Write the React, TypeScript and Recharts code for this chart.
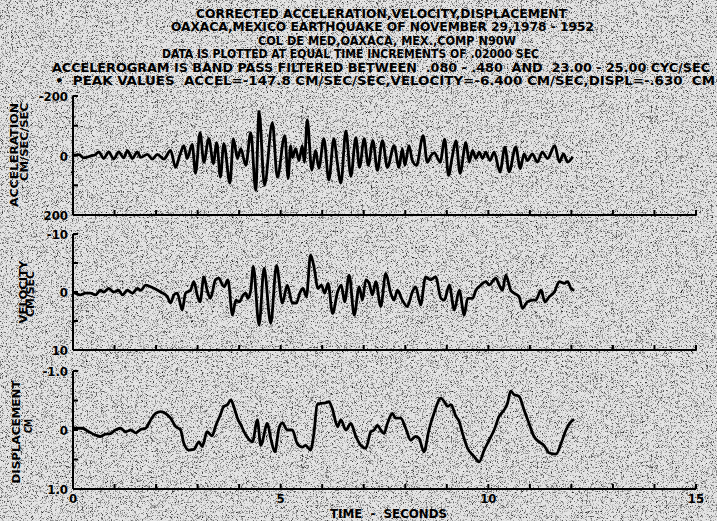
import { Line, LineChart, XAxis, YAxis } from "recharts"

const W = 717
const H = 521
const PLOT_LEFT = 73
const PLOT_RIGHT = 696
const FONT = "'DejaVu Sans Condensed', 'DejaVu Sans', sans-serif"

// time axis (seconds)
const timeTicks = [0, 1, 2, 3, 4, 5, 6, 7, 8, 9, 10, 11, 12, 13, 14, 15]
const timeLabels = ["0", "", "", "", "", "5", "", "", "", "", "10", "", "", "", "", "15"]

// acceleration, cm/sec/sec
const accTime = [
  0, 0.14, 0.26, 0.42, 0.54, 0.62, 0.74, 0.86, 0.98, 1.1, 1.22, 1.31, 1.43, 1.55, 1.63, 1.79, 1.91, 2.03, 2.19,
  2.35, 2.47, 2.57, 2.67, 2.75, 2.87, 2.95, 3.06, 3.15, 3.27, 3.38, 3.46, 3.55, 3.63, 3.78, 3.86, 3.96, 4.04,
  4.16, 4.28, 4.4, 4.48, 4.61, 4.8, 4.92, 5.1, 5.18, 5.24, 5.28, 5.36, 5.44, 5.52, 5.57, 5.64, 5.75, 5.84, 5.92,
  6.04, 6.16, 6.28, 6.36, 6.45, 6.57, 6.69, 6.81, 6.9, 7.01, 7.11, 7.22, 7.33, 7.45, 7.57, 7.73, 7.85, 7.93,
  7.99, 8.09, 8.17, 8.27, 8.43, 8.53, 8.62, 8.7, 8.84, 8.95, 9.04, 9.13, 9.22, 9.32, 9.46, 9.54, 9.62, 9.7,
  9.78, 9.86, 9.94, 10.04, 10.14, 10.28, 10.4, 10.5, 10.66, 10.77, 10.86, 10.94, 11.06, 11.18, 11.3, 11.43,
  11.6, 11.71, 11.81, 11.91, 12.03,
]
const accValue = [
  0, -3, 8, 2, -3, -12, 10, -12, 12, -12, 8, -16, 10, -12, 6, -4, 12, -4, 12,
  -17, 40, 0, -33, 10, -37, 60, -77, 23, -57, 27, -43, 73, -40, 93, -57, 10, -23,
  33, -77, 117, -148, 100, -110, 73, -67, 77, -33, 7, -23, 17, -33, 23, -120, 50, -17, 43,
  -57, 83, -57, 20, 93, -83, 70, -60, 40, -57, 33, -50, 50, -50, 40, -33, 40, -23,
  33, -33, 17, 33, -67, 23, 0, -9, 22, -55, 67, 5, -50, 60, -44, 22, -17, 10,
  -11, 10, -11, 17, -11, 55, -28, 55, -28, 44, -5, 17, -5, 22, -11, 10,
  -33, 22, -5, 22, 5,
]
const accTicks = [-200, -100, 0, 100, 200]
const accLabels = ["-200", "", "0", "", "200"]

// velocity, cm/sec
const velTime = [
  0, 0.18, 0.3, 0.42, 0.54, 0.66, 0.74, 0.86, 0.98, 1.1, 1.19, 1.31, 1.43, 1.55, 1.63, 1.75, 1.87, 2.11, 2.27,
  2.35, 2.43, 2.51, 2.63, 2.71, 2.83, 2.91, 2.99, 3.06, 3.15, 3.23, 3.31, 3.43, 3.51, 3.6, 3.64, 3.73, 3.84,
  3.92, 4.0, 4.1, 4.16, 4.21, 4.28, 4.34, 4.48, 4.6, 4.76, 4.9, 5.04, 5.16, 5.28, 5.38, 5.46, 5.54, 5.62, 5.72,
  5.8, 5.9, 5.98, 6.06, 6.14, 6.25, 6.37, 6.46, 6.54, 6.65, 6.77, 6.89, 6.97, 7.05, 7.13, 7.21, 7.29, 7.41,
  7.53, 7.65, 7.73, 7.81, 7.93, 8.05, 8.17, 8.25, 8.37, 8.49, 8.61, 8.73, 8.86, 8.94, 9.06, 9.18, 9.3, 9.42,
  9.5, 9.62, 9.7, 9.82, 9.94, 10.02, 10.18, 10.26, 10.34, 10.42, 10.54, 10.62, 10.74, 10.82, 10.94, 11.07,
  11.14, 11.27, 11.36, 11.47, 11.59, 11.71, 11.83, 11.91, 11.99, 12.07,
]
const velValue = [
  0, 0.5, 0.2, 0.2, 0.5, -0.3, 0, -0.6, 0, -0.3, 0.5, -0.3, 0.2, -0.6, -0.3, -1.2, -0.9, 0, 0.8,
  1.9, 0.5, 0.2, 3.1, 0.2, -0.3, -1.8, 0.5, 1.7, -2.6, -0.3, 1.1, -2.1, -2.4, -1.2, -0.9, -2.1, 4.0,
  1.4, 1.7, 0.5, 0.2, 1.1, -0.3, -4.4, 5.7, -4.1, 5.4, -4.6, 1.9, -1.2, 1.9, 1.9, 0.2, -0.6, 0.8, -6.4,
  -4.4, -0.6, -1.2, 0.2, -1.5, 3.7, 0, -1.2, 1.7, -2.9, 4.0, -0.9, 1.4, -2.1, -1.5, 0.5, -1.8, 2.5,
  -3.2, 0.2, 1.4, -0.3, 1.4, 2.5, 0, -0.9, 2.2, -2.6, -2.1, -2.6, 1.1, 1.4, -1.2, 3.1, -0.3, 4.0,
  1.1, 1.1, -0.3, -1.2, -1.8, -1.2, -2.4, -1.2, -0.3, -2.9, -0.3, 0.2, 0.8, 2.8, 1.7, 1.4,
  1.4, -0.3, 1.7, 0.8, 0, -1.8, -1.5, -1.8, -0.6, -0.3,
]
const velTicks = [-10, -5, 0, 5, 10]
const velLabels = ["-10", "", "0", "", "10"]

// displacement, cm
const dispTime = [
  0, 0.22, 0.38, 0.54, 0.66, 0.78, 0.9, 1.02, 1.14, 1.27, 1.39, 1.51, 1.63, 1.75, 1.87, 1.99, 2.11, 2.23, 2.35,
  2.47, 2.59, 2.67, 2.79, 2.91, 3.03, 3.11, 3.23, 3.35, 3.43, 3.55, 3.63, 3.72, 3.8, 3.87, 3.96, 4.04, 4.16,
  4.32, 4.44, 4.52, 4.68, 4.76, 4.86, 4.96, 5.04, 5.16, 5.28, 5.4, 5.52, 5.6, 5.72, 5.8, 5.88, 5.96, 6.08,
  6.16, 6.24, 6.37, 6.45, 6.57, 6.69, 6.81, 6.93, 7.05, 7.17, 7.25, 7.33, 7.41, 7.49, 7.57, 7.69, 7.77, 7.89,
  8.01, 8.13, 8.25, 8.33, 8.45, 8.57, 8.69, 8.86, 8.94, 9.02, 9.1, 9.22, 9.3, 9.38, 9.5, 9.66, 9.78, 9.9,
  10.02, 10.14, 10.26, 10.38, 10.46, 10.54, 10.62, 10.74, 10.86, 10.98, 11.1, 11.22, 11.34, 11.47, 11.63,
  11.75, 11.87, 11.99, 12.07,
]
const dispValue = [
  -0.03, -0.03, 0.03, 0.085, 0.11, 0.07, 0.06, 0, -0.03, 0.03, 0, 0.05, -0.01, -0.03, -0.17, -0.28, -0.31, -0.28, -0.2,
  -0.06, 0, 0.23, 0.34, 0.33, 0.2, 0.28, 0.03, 0.1, -0.06, -0.26, -0.4, -0.43, -0.51, -0.4, -0.2, -0.09, 0.085,
  0.2, -0.17, 0.26, -0.11, 0.14, 0.37, -0.03, -0.12, 0, 0, 0.23, 0.29, 0.26, 0.34, 0.06, -0.43, -0.45, -0.46,
  -0.48, -0.37, -0.06, -0.17, 0, -0.11, 0.11, 0.26, 0.31, 0.03, 0, -0.08, 0, 0.06, -0.11, -0.28, -0.2, -0.2,
  -0.03, 0.17, 0.11, 0.14, 0.37, 0, -0.28, -0.54, -0.48, -0.4, -0.43, -0.23, -0.14, 0.06, 0.31, 0.45, 0.54, 0.34,
  0.17, 0, -0.23, -0.34, -0.45, -0.66, -0.6, -0.57, -0.34, -0.11, 0.11, 0.2, 0.26, 0.39, 0.41,
  0.23, 0, -0.14, -0.18,
]
const dispTicks = [-1, -0.5, 0, 0.5, 1]
const dispLabels = ["-1.0", "", "0", "", "1.0"]

const titleLines = [
  "CORRECTED ACCELERATION,VELOCITY,DISPLACEMENT",
  "OAXACA,MEXICO EARTHQUAKE OF NOVEMBER 29,1978 - 1952",
  "COL DE MED,OAXACA, MEX.,COMP N90W",
  "DATA IS PLOTTED AT EQUAL TIME INCREMENTS OF .02000 SEC",
  "ACCELEROGRAM IS BAND PASS FILTERED BETWEEN  .080 - .480  AND  23.00 - 25.00 CYC/SEC",
  "\u2022  PEAK VALUES  ACCEL=-147.8 CM/SEC/SEC,VELOCITY=-6.400 CM/SEC,DISPL=-.630  CM",
]
// [x start, width, baseline]
const titleBoxes = [
  [196, 371, 18],
  [171, 423, 31],
  [258, 258, 45],
  [162, 377, 58],
  [52, 658, 72],
  [55, 660, 85],
]

const toRows = (ts: number[], vs: number[]) => ts.map((t, i) => ({ t, v: vs[i] }))

type PanelProps = {
  rows: { t: number; v: number }[]
  top: number
  bottom: number
  ticks: number[]
  labels: string[]
  timeText: boolean
}

function Panel({ rows, top, bottom, ticks, labels, timeText }: PanelProps) {
  const xTick = (p: any) => (
    <g>
      <line x1={p.x} x2={p.x} y1={bottom} y2={bottom - 5} stroke="#000" strokeWidth={2} />
      {timeText && timeLabels[p.index] ? (
        <text x={p.x} y={bottom + 14} textAnchor="middle" fontSize={13} fontWeight="bold" fontFamily={FONT} fill="#000">
          {timeLabels[p.index]}
        </text>
      ) : null}
    </g>
  )
  const yTick = (p: any) => (
    <g>
      <line x1={PLOT_LEFT} x2={PLOT_LEFT + 5} y1={p.y} y2={p.y} stroke="#000" strokeWidth={2} />
      {labels[p.index] ? (
        <text x={PLOT_LEFT - 5} y={p.y + 5} textAnchor="end" fontSize={13} fontWeight="bold" fontFamily={FONT} fill="#000">
          {labels[p.index]}
        </text>
      ) : null}
    </g>
  )
  return (
    <div style={{ position: "absolute", left: 0, top: 0 }}>
      <LineChart
        width={W}
        height={H}
        data={rows}
        margin={{ top, right: W - PLOT_RIGHT, bottom: H - bottom - 20, left: PLOT_LEFT - 60 }}
      >
        <XAxis
          dataKey="t"
          type="number"
          domain={[0, 15]}
          ticks={timeTicks}
          interval={0}
          height={20}
          tickSize={0}
          tickMargin={0}
          tickLine={false}
          axisLine={{ stroke: "#000", strokeWidth: 2 }}
          tick={xTick}
        />
        <YAxis
          type="number"
          domain={[ticks[0], ticks[ticks.length - 1]]}
          ticks={ticks}
          interval={0}
          reversed
          width={60}
          tickSize={0}
          tickMargin={0}
          tickLine={false}
          axisLine={{ stroke: "#000", strokeWidth: 2 }}
          tick={yTick}
        />
        <Line
          type="monotone"
          dataKey="v"
          stroke="#000"
          strokeWidth={2.8}
          dot={false}
          isAnimationActive={false}
        />
      </LineChart>
    </div>
  )
}

function SideTitle({ x, y, len, children }: { x: number; y: number; len: number; children: string }) {
  return (
    <text
      x={x}
      y={y}
      transform={`rotate(-90 ${x} ${y})`}
      textAnchor="middle"
      fontSize={11}
      fontWeight="bold"
      fontFamily={FONT}
      textLength={len}
      lengthAdjust="spacingAndGlyphs"
      fill="#000"
    >
      {children}
    </text>
  )
}

export default function App() {
  return (
    <div style={{ position: "fixed", left: 0, top: 0, width: W, height: H, overflow: "hidden" }}>
      {/* scanned-paper grain */}
      <svg width={W} height={H} style={{ position: "absolute", left: 0, top: 0 }}>
        <filter id="grain" x="0" y="0" width="100%" height="100%">
          <feTurbulence type="fractalNoise" baseFrequency="2.2" numOctaves={1} seed={7} />
          <feColorMatrix type="matrix" values="0 0 0 0 0  0 0 0 0 0  0 0 0 0 0  3.2 0 0 0 -1.65" />
        </filter>
        <rect width={W} height={H} fill="#e4e4e4" />
        <rect width={W} height={H} filter="url(#grain)" />
      </svg>
      <Panel rows={toRows(accTime, accValue)} top={96} bottom={215} ticks={accTicks} labels={accLabels} timeText={false} />
      <Panel rows={toRows(velTime, velValue)} top={234} bottom={350} ticks={velTicks} labels={velLabels} timeText={false} />
      <Panel rows={toRows(dispTime, dispValue)} top={371} bottom={489} ticks={dispTicks} labels={dispLabels} timeText />
      <svg width={W} height={H} style={{ position: "absolute", left: 0, top: 0, pointerEvents: "none" }}>
        {titleLines.map((line, i) => (
          <text
            key={i}
            x={titleBoxes[i][0]}
            y={titleBoxes[i][2]}
            textLength={titleBoxes[i][1]}
            lengthAdjust="spacingAndGlyphs"
            fontSize={12}
            fontWeight="bold"
            fontFamily={FONT}
            fill="#000"
            style={{ whiteSpace: "pre" }}
          >
            {line}
          </text>
        ))}
        <SideTitle x={18} y={155} len={104}>ACCELERATION</SideTitle>
        <SideTitle x={28} y={142} len={78}>CM/SEC/SEC</SideTitle>
        <SideTitle x={27} y={292} len={63}>VELOCITY</SideTitle>
        <SideTitle x={34} y={294} len={46}>CM/SEC</SideTitle>
        <SideTitle x={20} y={432} len={103}>DISPLACEMENT</SideTitle>
        <SideTitle x={32} y={426} len={14}>CM</SideTitle>
        <text
          x={330}
          y={518}
          textLength={117}
          lengthAdjust="spacingAndGlyphs"
          fontSize={13}
          fontWeight="bold"
          fontFamily={FONT}
          fill="#000"
          style={{ whiteSpace: "pre" }}
        >
          TIME  -  SECONDS
        </text>
      </svg>
    </div>
  )
}
